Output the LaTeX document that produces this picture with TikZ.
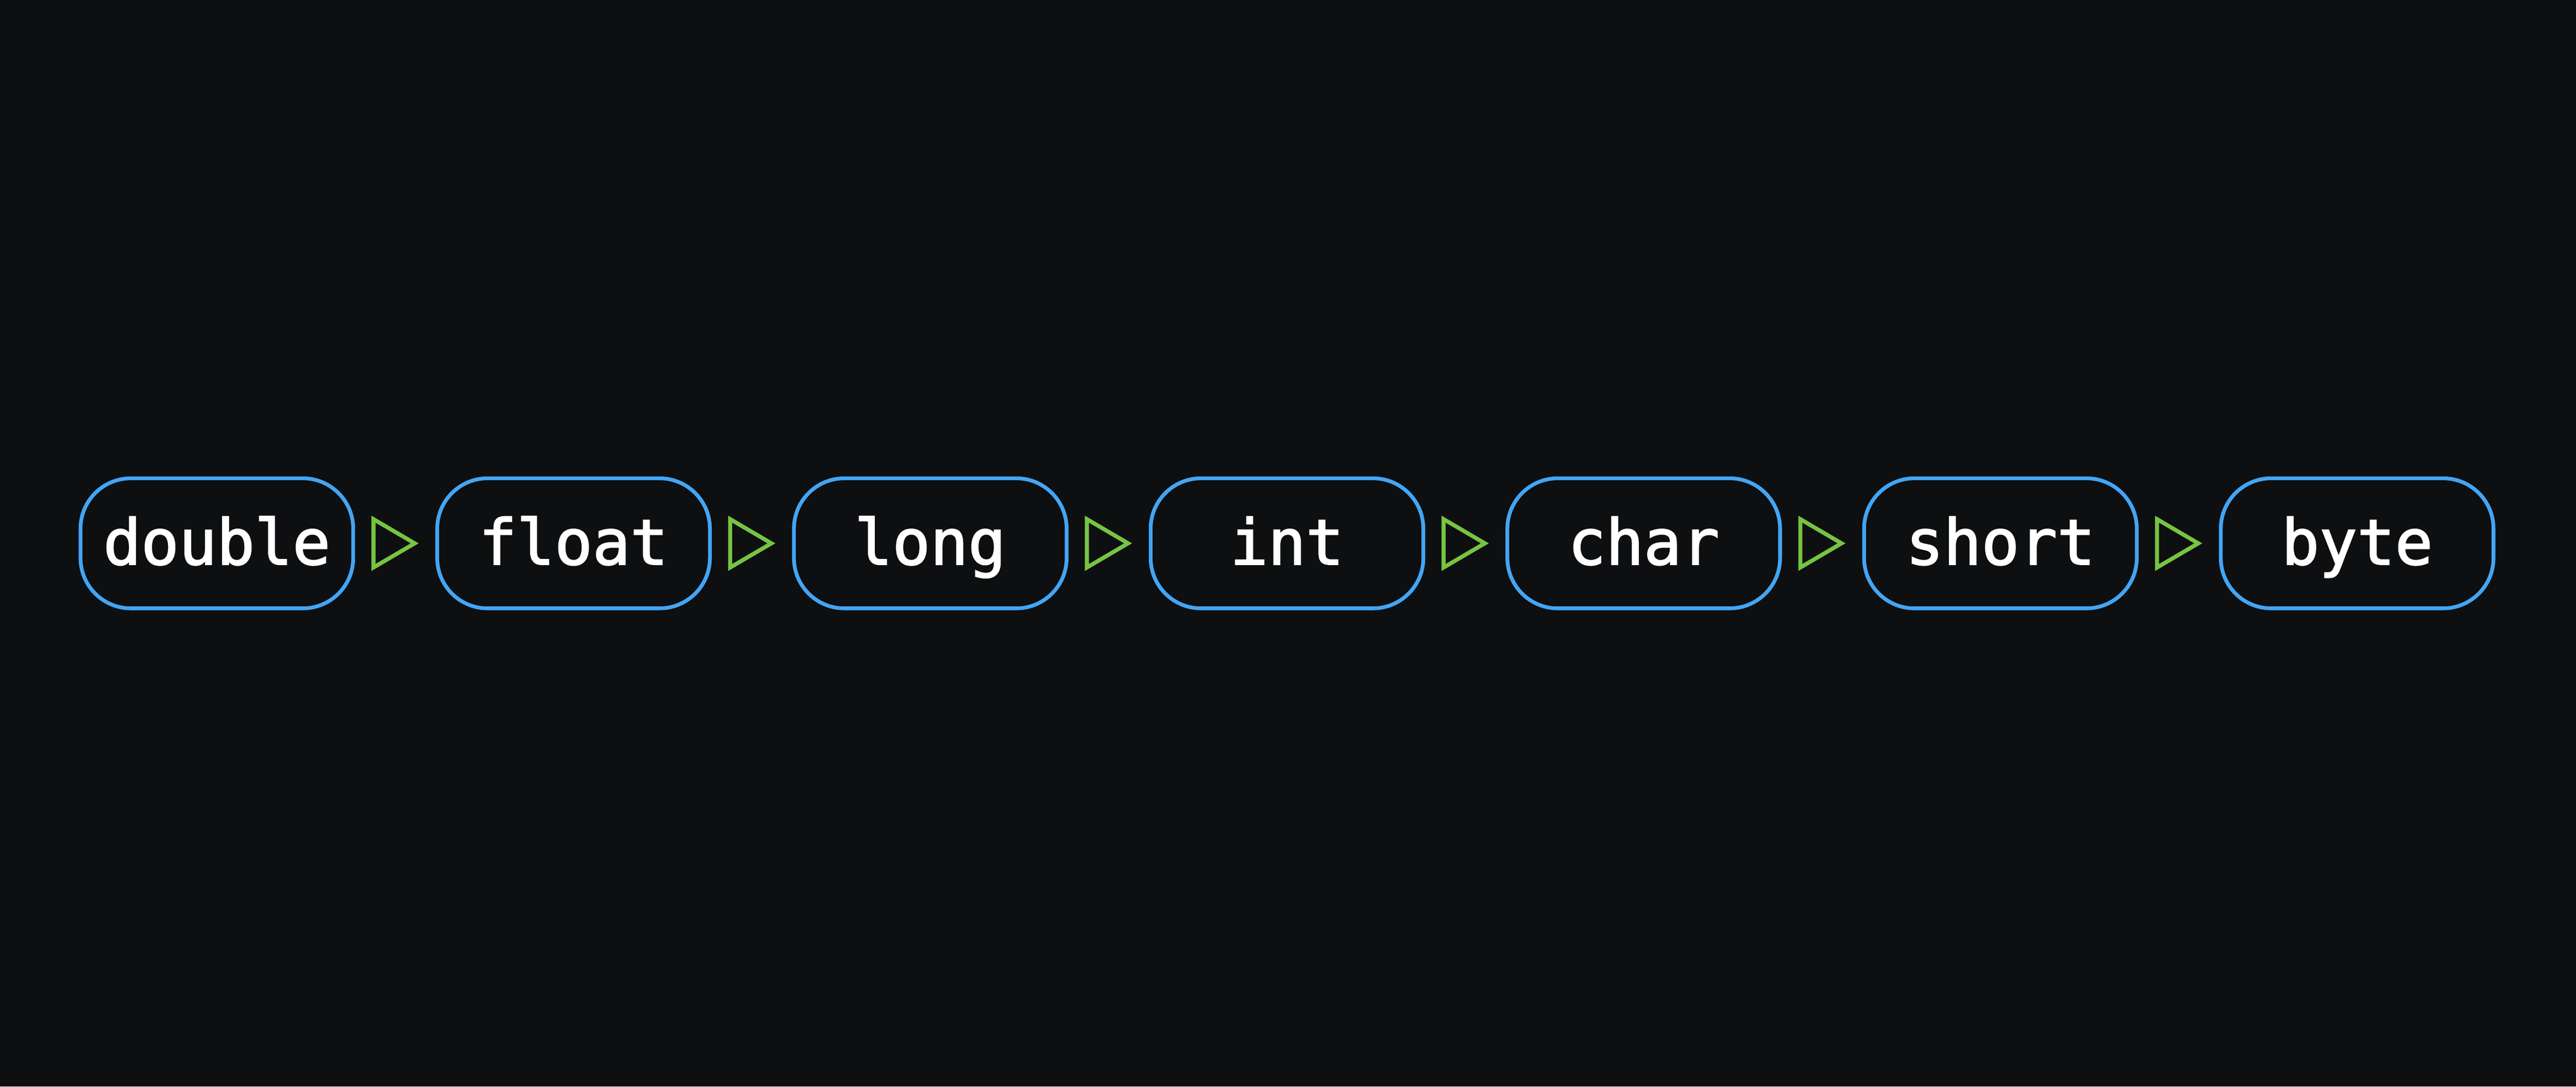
\documentclass[tikz,border=0pt]{standalone}
\usepackage{fontspec}
\newfontfamily\typefont[FakeBold=2]{DejaVu Sans Mono}
\usetikzlibrary{arrows.meta}
\definecolor{bgdark}{HTML}{0E0F11}
\definecolor{boxblue}{HTML}{42A5F5}
\definecolor{arrowgreen}{HTML}{76C442}
\tikzstyle{typebox} = [rectangle, rounded corners=10pt, minimum width=54.2pt, minimum height=25.85pt, text centered, draw=boxblue, line width=0.75pt, text=white, font=\typefont\fontsize{12.5pt}{14pt}\selectfont, text height=10.4pt, text depth=2pt, inner sep=0pt]
\tikzstyle{arrow} = [draw=bgdark, line width=0.8pt, -{Triangle[open, color=arrowgreen, length=9.4pt, width=10.8pt]}, shorten <=4pt, shorten >=3.3pt]

\begin{document}
\begin{tikzpicture}[node distance=70.9pt]

    \fill[bgdark] (0,0) rectangle (512pt,-216pt);

    \node (double) [typebox] at (43.1pt,-108pt) {double};
    \node (float) [typebox, right of=double] {float};
    \node (long) [typebox, right of=float] {long};
    \node (int) [typebox, right of=long] {int};
    \node (char) [typebox, right of=int] {char};
    \node (short) [typebox, right of=char] {short};
    \node (byte) [typebox, right of=short] {byte};

    \draw [arrow] (double) -- (float);
    \draw [arrow] (float) -- (long);
    \draw [arrow] (long) -- (int);
    \draw [arrow] (int) -- (char);
    \draw [arrow] (char) -- (short);
    \draw [arrow] (short) -- (byte);

\end{tikzpicture}
\end{document}
